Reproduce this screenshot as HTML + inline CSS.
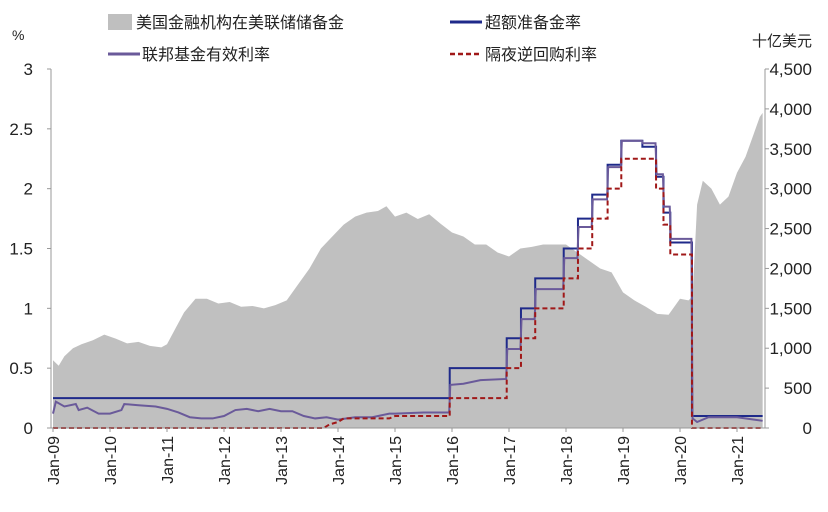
<!DOCTYPE html>
<html><head><meta charset="utf-8"><style>
body{margin:0;background:#fff;width:828px;height:507px;overflow:hidden}
svg text{font-family:"Liberation Sans","Noto Sans CJK SC",sans-serif;fill:#222}
</style></head><body>
<svg id="c" width="828" height="507">
<g>
<rect x="108" y="14" width="24" height="16" fill="#bfbfbf"/>
<text x="136" y="28" font-size="16">美国金融机构在美联储储备金</text>
<line x1="450" y1="22" x2="482" y2="22" stroke="#1f2a8a" stroke-width="3"/>
<text x="485" y="28" font-size="16">超额准备金率</text>
<line x1="108" y1="54" x2="140" y2="54" stroke="#6a5a9a" stroke-width="3"/>
<text x="142" y="60" font-size="16">联邦基金有效利率</text>
<line x1="450" y1="54" x2="482" y2="54" stroke="#a01818" stroke-width="2.5" stroke-dasharray="5,3"/>
<text x="485" y="60" font-size="16">隔夜逆回购利率</text>
</g>
<text x="12" y="40" font-size="14">%</text>
<text x="752" y="46" font-size="15">十亿美元</text>
<g id="plot"></g>
</svg>
<script>
const reserveYears=[2009,2009.1,2009.2,2009.35,2009.5,2009.7,2009.9,2010.1,2010.3,2010.5,2010.7,2010.9,2011.0,2011.15,2011.3,2011.5,2011.7,2011.9,2012.1,2012.3,2012.5,2012.7,2012.9,2013.1,2013.3,2013.5,2013.7,2013.9,2014.1,2014.3,2014.5,2014.7,2014.85,2015.0,2015.2,2015.4,2015.6,2015.8,2016.0,2016.2,2016.4,2016.6,2016.8,2017.0,2017.2,2017.4,2017.6,2017.8,2018.0,2018.2,2018.4,2018.6,2018.8,2019.0,2019.2,2019.4,2019.6,2019.8,2020.0,2020.15,2020.22,2020.3,2020.4,2020.55,2020.7,2020.85,2021.0,2021.15,2021.3,2021.4,2021.45];
const reserveValues=[850,780,900,1000,1050,1100,1170,1120,1060,1080,1030,1010,1050,1250,1450,1620,1620,1560,1580,1520,1530,1500,1540,1600,1800,2000,2250,2400,2550,2650,2700,2720,2780,2650,2700,2620,2680,2560,2450,2400,2300,2300,2200,2150,2250,2270,2300,2300,2300,2200,2100,2000,1950,1700,1600,1520,1430,1420,1620,1600,1650,2800,3100,3000,2800,2900,3200,3400,3700,3900,3950];
const ioerYears=[2009,2015.96,2015.96,2016.96,2016.96,2017.21,2017.21,2017.46,2017.46,2017.96,2017.96,2018.21,2018.21,2018.46,2018.46,2018.73,2018.73,2018.97,2018.97,2019.34,2019.34,2019.58,2019.58,2019.71,2019.71,2019.83,2019.83,2020.21,2020.21,2021.45];
const ioerValues=[0.25,0.25,0.5,0.5,0.75,0.75,1.0,1.0,1.25,1.25,1.5,1.5,1.75,1.75,1.95,1.95,2.2,2.2,2.4,2.4,2.35,2.35,2.1,2.1,1.8,1.8,1.55,1.55,0.1,0.1];
const rrpYears=[2009,2013.75,2013.85,2014.0,2014.1,2014.9,2015.0,2015.96,2015.96,2016.96,2016.96,2017.21,2017.21,2017.46,2017.46,2017.96,2017.96,2018.21,2018.21,2018.46,2018.46,2018.73,2018.73,2018.97,2018.97,2019.58,2019.58,2019.71,2019.71,2019.83,2019.83,2020.21,2020.21,2021.45];
const rrpValues=[0,0,0.03,0.05,0.08,0.08,0.1,0.1,0.25,0.25,0.5,0.5,0.75,0.75,1.0,1.0,1.25,1.25,1.5,1.5,1.75,1.75,2.0,2.0,2.25,2.25,2.0,2.0,1.7,1.7,1.45,1.45,0,0];
const effrYears=[2009,2009.05,2009.2,2009.4,2009.45,2009.6,2009.8,2010.0,2010.2,2010.25,2010.5,2010.8,2011.0,2011.2,2011.4,2011.6,2011.8,2012.0,2012.2,2012.4,2012.6,2012.8,2013.0,2013.2,2013.4,2013.6,2013.8,2014.0,2014.3,2014.6,2014.9,2015.0,2015.5,2015.95,2015.97,2016.2,2016.5,2016.95,2016.97,2017.2,2017.22,2017.45,2017.47,2017.95,2017.97,2018.2,2018.22,2018.45,2018.47,2018.72,2018.74,2018.96,2018.98,2019.33,2019.35,2019.57,2019.59,2019.7,2019.72,2019.82,2019.84,2020.2,2020.22,2020.3,2020.5,2021.0,2021.3,2021.45];
const effrValues=[0.12,0.22,0.18,0.2,0.15,0.17,0.12,0.12,0.15,0.2,0.19,0.18,0.16,0.13,0.09,0.08,0.08,0.1,0.15,0.16,0.14,0.16,0.14,0.14,0.1,0.08,0.09,0.07,0.09,0.09,0.12,0.12,0.13,0.13,0.36,0.37,0.4,0.41,0.66,0.66,0.91,0.91,1.16,1.16,1.42,1.42,1.68,1.68,1.91,1.91,2.18,2.18,2.4,2.4,2.38,2.38,2.12,2.12,1.85,1.85,1.58,1.58,0.08,0.05,0.09,0.09,0.07,0.06];
const leftTicks=[0,0.5,1,1.5,2,2.5,3];
const leftTickLabels=["0","0.5","1","1.5","2","2.5","3"];
const rightTicks=[0,500,1000,1500,2000,2500,3000,3500,4000,4500];
const rightTickLabels=["0","500","1,000","1,500","2,000","2,500","3,000","3,500","4,000","4,500"];
const xTicks=[2009,2010,2011,2012,2013,2014,2015,2016,2017,2018,2019,2020,2021];
const xTickLabels=["Jan-09","Jan-10","Jan-11","Jan-12","Jan-13","Jan-14","Jan-15","Jan-16","Jan-17","Jan-18","Jan-19","Jan-20","Jan-21"];

const NS="http://www.w3.org/2000/svg";
const X0=53,XLA=51,XL=765,Y0=428,YT=69;
const xs=y=>X0+(y-2009)*57;
const yl=v=>Y0-v/3*(Y0-YT);
const yr=v=>Y0-v/4500*(Y0-YT);
const plot=document.getElementById('plot');
function mk(t,a){const e=document.createElementNS(NS,t);for(const k in a)e.setAttribute(k,a[k]);plot.appendChild(e);return e;}
let d=`M${xs(reserveYears[0])},${Y0}`;
reserveYears.forEach((yy,i)=>{d+=`L${xs(yy)},${yr(reserveValues[i])}`;});
d+=`L${xs(reserveYears[reserveYears.length-1])},${Y0}Z`;
const area=mk('path',{d:d,fill:'#c0c0c0'});


function line(xa,va,stroke,w,dash,name){
  const p=xa.map((yy,i)=>`${xs(yy)},${yl(va[i])}`).join(' ');
  const e=mk('polyline',{points:p,fill:'none',stroke:stroke,'stroke-width':w});
  if(dash)e.setAttribute('stroke-dasharray',dash);
  
  
}
line(ioerYears,ioerValues,'#1f2a8a',2,null,'ioer-line');
line(effrYears,effrValues,'#6a5a9a',2,null,'effr-line');
line(rrpYears,rrpValues,'#a01818',2,'5,3','rrp-line');
const la=mk('line',{x1:XLA,y1:YT,x2:XLA,y2:Y0,stroke:'#999'});

const ra=mk('line',{x1:XL,y1:YT,x2:XL,y2:Y0,stroke:'#999'});

const ba=mk('line',{x1:XLA,y1:Y0,x2:XL,y2:Y0,stroke:'#999'});

leftTicks.forEach((v,i)=>{
  mk('line',{x1:XLA-4,y1:yl(v),x2:XLA,y2:yl(v),stroke:'#999'});
  const t=mk('text',{x:33,y:yl(v)+6,'font-size':17,'text-anchor':'end'});
  t.textContent=leftTickLabels[i];
  
  
});
rightTicks.forEach((v,i)=>{
  mk('line',{x1:XL,y1:yr(v),x2:XL+4,y2:yr(v),stroke:'#999'});
  const t=mk('text',{x:812,y:yr(v)+6,'font-size':17,'text-anchor':'end'});
  t.textContent=rightTickLabels[i];
  
  
});
xTicks.forEach((v,i)=>{
  const x=xs(v);
  mk('line',{x1:x,y1:Y0,x2:x,y2:Y0+4,stroke:'#999'});
  const t=mk('text',{x:0,y:0,'font-size':16,'text-anchor':'end',transform:`translate(${x+6},${Y0+8}) rotate(-90)`});
  t.textContent=xTickLabels[i];
  
  
});
</script>
</body></html>
